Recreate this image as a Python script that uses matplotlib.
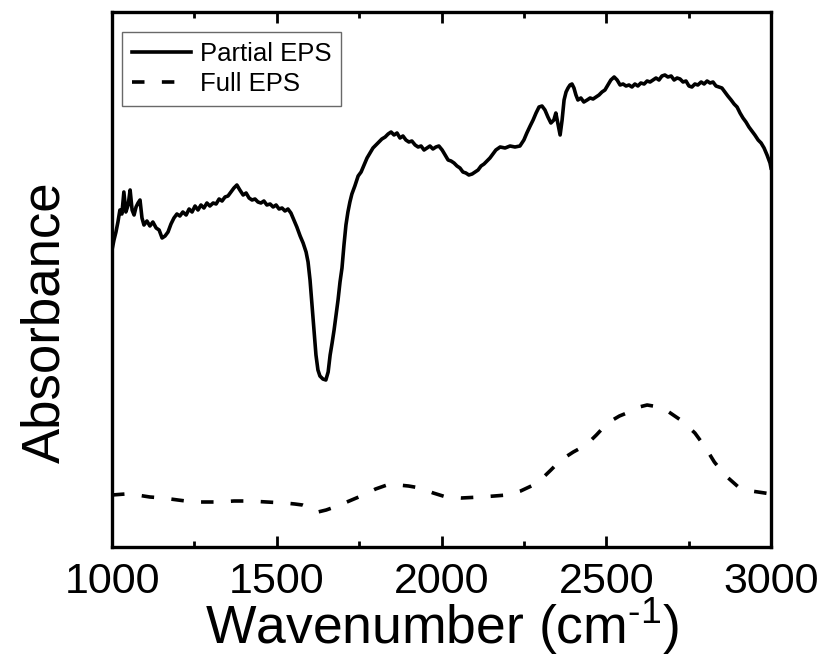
import numpy as np
import matplotlib
matplotlib.use("Agg")
import matplotlib.pyplot as plt
from matplotlib.ticker import MultipleLocator, NullLocator

plt.rcParams['font.family'] = ['Liberation Sans', 'DejaVu Sans']
plt.rcParams['mathtext.fontset'] = 'custom'
plt.rcParams['mathtext.rm'] = 'Liberation Sans'
plt.rcParams['mathtext.default'] = 'regular'
plt.rcParams['lines.scale_dashes'] = False

# ---- data (arbitrary absorbance units) ----
partial_x = [1000, 1006, 1012, 1018, 1024, 1030, 1036, 1042, 1049, 1055, 1061, 1067, 1073, 1079, 1085, 1091, 1097,
             1106, 1115, 1124, 1134, 1143, 1152, 1161, 1170, 1179, 1188, 1197, 1206, 1215, 1225, 1234, 1243, 1252,
             1261, 1270, 1279, 1288, 1297, 1307, 1316, 1325, 1334, 1343, 1352, 1361, 1370, 1379, 1388, 1398, 1407,
             1416, 1425, 1434, 1443, 1452, 1461, 1470, 1480, 1489, 1498, 1507, 1516, 1525, 1534, 1543, 1552, 1561,
             1571, 1580, 1589, 1595, 1601, 1607, 1613, 1619, 1625, 1631, 1640, 1649, 1656, 1662, 1668, 1674, 1680,
             1686, 1692, 1698, 1704, 1710, 1716, 1722, 1728, 1737, 1747, 1756, 1765, 1774, 1783, 1792, 1801, 1810,
             1819, 1829, 1838, 1847, 1856, 1865, 1874, 1883, 1892, 1901, 1910, 1920, 1929, 1938, 1947, 1956, 1965,
             1974, 1983, 1992, 2002, 2011, 2020, 2029, 2038, 2047, 2056, 2065, 2074, 2083, 2093, 2102, 2111, 2120,
             2129, 2138, 2147, 2156, 2165, 2178, 2193, 2208, 2223, 2238, 2250, 2259, 2269, 2278, 2287, 2296, 2305,
             2314, 2323, 2332, 2341, 2347, 2354, 2360, 2366, 2372, 2378, 2384, 2390, 2396, 2402, 2408, 2414, 2423,
             2432, 2442, 2451, 2460, 2469, 2478, 2487, 2496, 2505, 2514, 2524, 2533, 2542, 2551, 2560, 2569, 2578,
             2587, 2596, 2605, 2615, 2624, 2633, 2642, 2651, 2660, 2669, 2678, 2687, 2697, 2706, 2715, 2724, 2733,
             2742, 2751, 2760, 2769, 2778, 2788, 2797, 2806, 2815, 2824, 2833, 2842, 2851, 2860, 2869, 2879, 2888,
             2897, 2906, 2915, 2924, 2933, 2942, 2951, 2961, 2970, 2979, 2988, 2997, 3000]
partial_y = [2.97, 3.07, 3.15, 3.25, 3.37, 3.33, 3.55, 3.35, 3.42, 3.57, 3.37, 3.32, 3.40, 3.44, 3.47, 3.29, 3.22,
             3.26, 3.21, 3.25, 3.19, 3.17, 3.09, 3.11, 3.15, 3.23, 3.29, 3.33, 3.31, 3.35, 3.32, 3.38, 3.35, 3.41,
             3.37, 3.42, 3.39, 3.44, 3.41, 3.44, 3.43, 3.48, 3.46, 3.50, 3.51, 3.55, 3.59, 3.62, 3.57, 3.52, 3.54,
             3.49, 3.47, 3.48, 3.45, 3.44, 3.46, 3.42, 3.43, 3.40, 3.42, 3.38, 3.39, 3.36, 3.38, 3.34, 3.27, 3.20,
             3.11, 3.04, 2.95, 2.85, 2.67, 2.42, 2.17, 1.92, 1.77, 1.71, 1.68, 1.67, 1.75, 1.92, 2.04, 2.17, 2.32,
             2.47, 2.65, 2.79, 3.02, 3.22, 3.35, 3.45, 3.53, 3.61, 3.71, 3.75, 3.82, 3.89, 3.94, 3.99, 4.02, 4.05,
             4.08, 4.10, 4.13, 4.15, 4.12, 4.14, 4.09, 4.11, 4.07, 4.05, 4.06, 4.02, 4.00, 4.01, 3.97, 3.99, 4.01,
             3.98, 4.00, 4.01, 3.97, 3.92, 3.87, 3.86, 3.84, 3.81, 3.79, 3.75, 3.74, 3.72, 3.73, 3.75, 3.77, 3.81,
             3.83, 3.86, 3.89, 3.93, 3.97, 4.00, 3.99, 4.01, 4.00, 4.01, 4.07, 4.14, 4.21, 4.27, 4.34, 4.40, 4.41,
             4.37, 4.30, 4.24, 4.27, 4.34, 4.22, 4.12, 4.27, 4.47, 4.55, 4.59, 4.62, 4.63, 4.59, 4.52, 4.47, 4.49,
             4.45, 4.47, 4.49, 4.48, 4.50, 4.52, 4.55, 4.57, 4.62, 4.67, 4.70, 4.67, 4.62, 4.63, 4.61, 4.62, 4.60,
             4.63, 4.61, 4.64, 4.63, 4.66, 4.65, 4.67, 4.69, 4.67, 4.71, 4.72, 4.70, 4.71, 4.67, 4.69, 4.68, 4.65,
             4.66, 4.61, 4.60, 4.63, 4.62, 4.65, 4.63, 4.66, 4.64, 4.65, 4.61, 4.60, 4.59, 4.55, 4.51, 4.47, 4.43,
             4.40, 4.34, 4.29, 4.25, 4.20, 4.16, 4.12, 4.07, 4.04, 3.99, 3.92, 3.84, 3.79]

full_x = [1000, 1040, 1076, 1115, 1155, 1200, 1247, 1290, 1327, 1370, 1419, 1470, 1525, 1555, 1578, 1600, 1625,
          1650, 1684, 1720, 1763, 1800, 1843, 1869, 1900, 1935, 1975, 2014, 2060, 2120, 2160, 2199, 2240, 2279,
          2310, 2332, 2350, 2372, 2400, 2439, 2470, 2504, 2540, 2570, 2600, 2624, 2660, 2690, 2730, 2769, 2800,
          2828, 2860, 2901, 2940, 2981, 3000]
full_y = [0.52, 0.53, 0.52, 0.50, 0.49, 0.47, 0.45, 0.45, 0.45, 0.46, 0.46, 0.45, 0.44, 0.43, 0.42, 0.39, 0.35,
          0.37, 0.41, 0.46, 0.52, 0.58, 0.63, 0.62, 0.61, 0.59, 0.54, 0.50, 0.49, 0.50, 0.51, 0.52, 0.56, 0.62,
          0.70, 0.77, 0.83, 0.89, 0.95, 1.02, 1.12, 1.24, 1.31, 1.35, 1.40, 1.42, 1.40, 1.35, 1.26, 1.14, 1.00,
          0.85, 0.72, 0.60, 0.56, 0.54, 0.53]

labels = ["Partial EPS", "Full EPS"]
xticks = [1000, 1500, 2000, 2500, 3000]

fig = plt.figure(figsize=(8.25, 6.59), dpi=100)
ax = fig.add_axes([112/825, 1-547/659, 659/825, 535/659])

ax.plot(partial_x, partial_y, color='black', lw=2.6, solid_joinstyle='round', label=labels[0])
ax.plot(full_x, full_y, color='black', lw=2.6, dashes=(9, 12.5), label=labels[1])

ax.set_xlim(1000, 3000)
ax.set_ylim(0, 5.35)
ax.set_xticks(xticks)
ax.set_xticklabels([str(t) for t in xticks])
ax.xaxis.set_minor_locator(MultipleLocator(250))
ax.yaxis.set_major_locator(NullLocator())
ax.tick_params(axis='x', which='both', direction='in', top=True, bottom=True, labelsize=31, width=2, pad=11)
ax.tick_params(axis='x', which='major', length=8)
ax.tick_params(axis='x', which='minor', length=4)
for s in ax.spines.values():
    s.set_linewidth(2.4)

ax.set_xlabel(r'Wavenumber (cm$^{\text{-1}}$)', fontsize=38.5, labelpad=-4)
ax.set_ylabel('Absorbance', fontsize=38)
ax.yaxis.set_label_coords(-0.063, 0.42)

leg = ax.legend(loc='upper left', bbox_to_anchor=(0.015, 0.963), borderaxespad=0, fontsize=18.5,
                frameon=True, fancybox=False, handlelength=2.3, handletextpad=0.35, labelspacing=0.25,
                borderpad=0.38)
leg.get_frame().set_edgecolor('#444444')
leg.get_frame().set_linewidth(1.0)

fig.savefig('out.png', dpi=100)
